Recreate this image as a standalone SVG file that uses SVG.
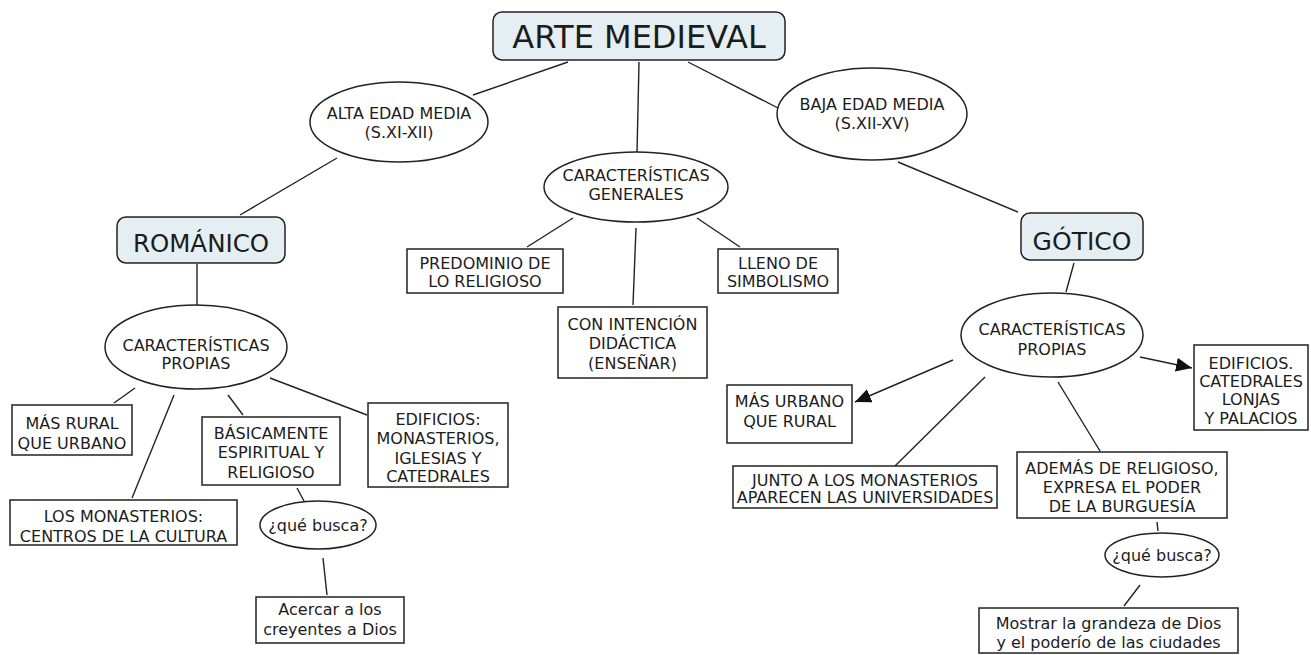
<svg xmlns="http://www.w3.org/2000/svg" width="1311" height="655" viewBox="0 0 1311 655">
<style>
text{font-family:"DejaVu Sans","Verdana",sans-serif;fill:#1c1c1c;text-anchor:middle;font-size:16px}
.box{fill:#fff;stroke:#222;stroke-width:1.5}
.main{fill:#e4eef3;stroke:#222;stroke-width:1.5}
.ell{fill:#fff;stroke:#222;stroke-width:1.5}
.ln{stroke:#222;stroke-width:1.4;fill:none}
.arr{stroke:#222;stroke-width:1.4;fill:none;marker-end:url(#ah)}
</style>
<defs>
<marker id="ah" markerUnits="userSpaceOnUse" markerWidth="17" markerHeight="14" refX="16" refY="7" orient="auto"><path d="M0,0 L16,7 L0,14 Z" fill="#111"/></marker>
</defs>
<rect width="1311" height="655" fill="#fff"/>
<g id="connectors">
<line class="ln" x1="568" y1="62" x2="473" y2="95"/>
<line class="ln" x1="639" y1="62" x2="637" y2="153"/>
<line class="ln" x1="688" y1="62" x2="778" y2="108"/>
<line class="ln" x1="337" y1="158" x2="240" y2="215"/>
<line class="ln" x1="197" y1="264" x2="197" y2="305"/>
<line class="ln" x1="135" y1="388" x2="114" y2="403"/>
<line class="ln" x1="174" y1="395" x2="132" y2="498"/>
<line class="ln" x1="228" y1="395" x2="243" y2="415"/>
<line class="ln" x1="270" y1="378" x2="367" y2="415"/>
<line class="ln" x1="297" y1="488" x2="304" y2="501"/>
<line class="ln" x1="323" y1="558" x2="327" y2="595"/>
<line class="ln" x1="573" y1="218" x2="527" y2="247"/>
<line class="ln" x1="636" y1="228" x2="633" y2="305"/>
<line class="ln" x1="697" y1="218" x2="740" y2="247"/>
<line class="ln" x1="898" y1="162" x2="1018" y2="212"/>
<line class="ln" x1="1074" y1="263" x2="1066" y2="292"/>
<line class="arr" x1="1140" y1="357" x2="1192" y2="368"/>
<line class="arr" x1="953" y1="360" x2="855" y2="402"/>
<line class="ln" x1="985" y1="377" x2="895" y2="466"/>
<line class="ln" x1="1058" y1="382" x2="1100" y2="451"/>
<line class="ln" x1="1157" y1="522" x2="1158" y2="531"/>
<line class="ln" x1="1140" y1="585" x2="1124" y2="606"/>
</g>
<g id="arte"><rect class="main" x="493" y="12" width="292" height="48" rx="9"/><text x="639" y="47.5" style="font-size:32px">ARTE MEDIEVAL</text></g>
<g id="alta"><ellipse class="ell" cx="399" cy="122" rx="89" ry="40"/><text x="399" y="119">ALTA EDAD MEDIA</text><text x="399" y="138">(S.XI-XII)</text></g>
<g id="baja"><ellipse class="ell" cx="872" cy="114" rx="95" ry="46"/><text x="872" y="110">BAJA EDAD MEDIA</text><text x="872" y="129">(S.XII-XV)</text></g>
<g id="romanico"><rect class="main" x="117" y="217" width="168" height="46" rx="9"/><text x="201" y="252" style="font-size:24.5px">ROMÁNICO</text></g>
<g id="gotico"><rect class="main" x="1021" y="213" width="122" height="47" rx="9"/><text x="1082" y="250" style="font-size:25px">GÓTICO</text></g>
<g id="generales"><ellipse class="ell" cx="636" cy="187" rx="92" ry="35"/><text x="636" y="181">CARACTERÍSTICAS</text><text x="636" y="200">GENERALES</text></g>
<g id="predominio"><rect class="box" x="407" y="249" width="156" height="44"/><text x="485" y="269">PREDOMINIO DE</text><text x="485" y="287">LO RELIGIOSO</text></g>
<g id="intencion"><rect class="box" x="558" y="307" width="149" height="71"/><text x="632.5" y="329.5">CON INTENCIÓN</text><text x="632.5" y="349">DIDÁCTICA</text><text x="632.5" y="368.5">(ENSEÑAR)</text></g>
<g id="lleno"><rect class="box" x="718" y="249" width="120" height="44"/><text x="778" y="269">LLENO DE</text><text x="778" y="287">SIMBOLISMO</text></g>
<g id="propias-rom"><ellipse class="ell" cx="196" cy="347" rx="91" ry="42"/><text x="196" y="351">CARACTERÍSTICAS</text><text x="196" y="369">PROPIAS</text></g>
<g id="rural"><rect class="box" x="12" y="405" width="120" height="50"/><text x="72" y="428.5">MÁS RURAL</text><text x="72" y="448.5">QUE URBANO</text></g>
<g id="monasterios"><rect class="box" x="10" y="500" width="227" height="45"/><text x="123.5" y="522">LOS MONASTERIOS:</text><text x="123.5" y="542">CENTROS DE LA CULTURA</text></g>
<g id="basicamente"><rect class="box" x="202" y="417" width="138" height="68"/><text x="271" y="438.5">BÁSICAMENTE</text><text x="271" y="458">ESPIRITUAL Y</text><text x="271" y="478">RELIGIOSO</text></g>
<g id="edificios-rom"><rect class="box" x="368" y="403" width="140" height="84"/><text x="438" y="425">EDIFICIOS:</text><text x="438" y="444">MONASTERIOS,</text><text x="438" y="463.5">IGLESIAS Y</text><text x="438" y="482">CATEDRALES</text></g>
<g id="busca-rom"><ellipse class="ell" cx="318" cy="525" rx="58" ry="24"/><text x="318" y="531">¿qué busca?</text></g>
<g id="acercar"><rect class="box" x="256" y="597" width="148" height="46"/><text x="330" y="615">Acercar a los</text><text x="330" y="635">creyentes a Dios</text></g>
<g id="propias-got"><ellipse class="ell" cx="1052" cy="335" rx="91" ry="42"/><text x="1052" y="335">CARACTERÍSTICAS</text><text x="1052" y="354.5">PROPIAS</text></g>
<g id="edificios-got"><rect class="box" x="1194" y="345" width="114" height="85"/><text x="1251" y="368.5">EDIFICIOS.</text><text x="1251" y="387">CATEDRALES</text><text x="1251" y="405">LONJAS</text><text x="1251" y="423.5">Y PALACIOS</text></g>
<g id="urbano"><rect class="box" x="727" y="385" width="125" height="58"/><text x="789.5" y="407">MÁS URBANO</text><text x="789.5" y="427">QUE RURAL</text></g>
<g id="junto"><rect class="box" x="733" y="466" width="264" height="42"/><text x="865" y="486">JUNTO A LOS MONASTERIOS</text><text x="865" y="503">APARECEN LAS UNIVERSIDADES</text></g>
<g id="ademas"><rect class="box" x="1017" y="452" width="210" height="66"/><text x="1122" y="473.5">ADEMÁS DE RELIGIOSO,</text><text x="1122" y="493">EXPRESA EL PODER</text><text x="1122" y="512">DE LA BURGUESÍA</text></g>
<g id="busca-got"><ellipse class="ell" cx="1162" cy="555" rx="57" ry="22"/><text x="1162" y="561">¿qué busca?</text></g>
<g id="mostrar"><rect class="box" x="979" y="608" width="259" height="45"/><text x="1108.5" y="629">Mostrar la grandeza de Dios</text><text x="1108.5" y="648">y el poderío de las ciudades</text></g>
</svg>
